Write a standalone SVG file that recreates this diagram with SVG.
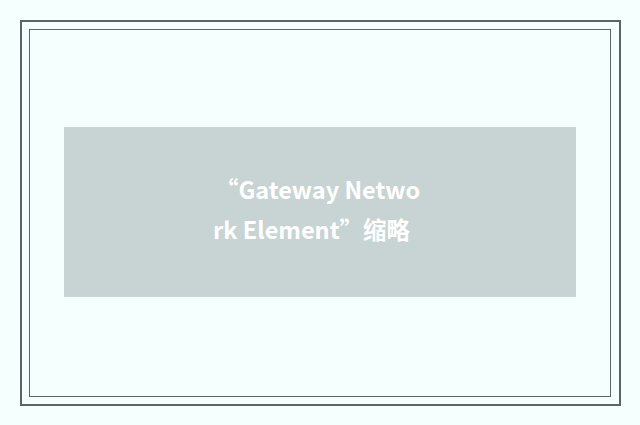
<svg xmlns="http://www.w3.org/2000/svg" width="640" height="425" viewBox="0 0 640 425">
<style>
.t{font-family:"Noto Sans CJK SC",sans-serif;font-weight:bold;font-size:23.5px;fill:#ffffff}
</style>
<rect width="640" height="425" fill="#f4fffe"/>
<g id="frame">
<rect x="21" y="21" width="599" height="384" fill="none" stroke="#5b6664" stroke-width="2"/>
<rect x="29.5" y="29.5" width="581" height="367" fill="none" stroke="#5b6664" stroke-width="1"/>
</g>
<g id="placeholder">
<rect x="64" y="127" width="512" height="170" fill="#c7d4d3"/>
<text class="t" x="215" y="199">“Gateway Netwo</text>
<text class="t" x="213" y="239">rk Element”缩略</text>
</g>
</svg>
